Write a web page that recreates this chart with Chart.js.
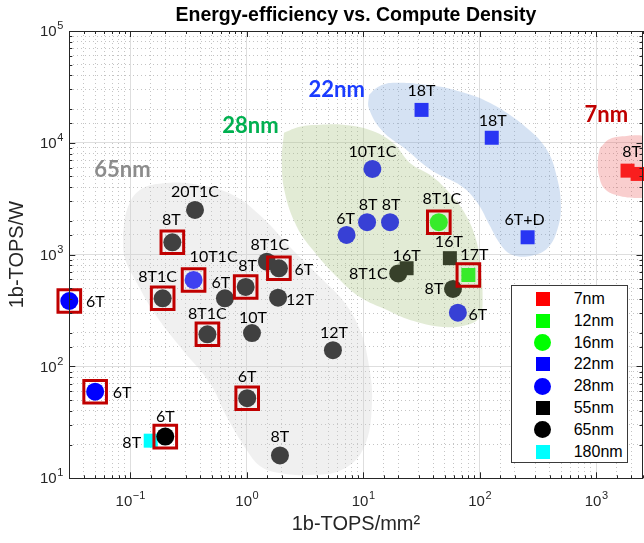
<!DOCTYPE html>
<html>
<head>
<meta charset="utf-8">
<title>Energy-efficiency vs. Compute Density</title>
<script src="https://cdn.jsdelivr.net/npm/chart.js@4.4.1/dist/chart.umd.min.js"></script>
<style>
  html, body { margin: 0; padding: 0; background: #ffffff; }
  #wrap { position: relative; width: 644px; height: 543px; overflow: hidden; }
  #legend {
    position: absolute; left: 511px; top: 285px; width: 115px; height: 176px;
    border: 1px solid #3a3a3a; background: #ffffff;
    font: 16px "Liberation Sans", Arial, sans-serif; color: #000000;
  }
</style>
</head>
<body>
<div id="wrap">
  <canvas id="chart" width="644" height="543"></canvas>
  <div id="legend"></div>
</div>
<script>
// Energy-efficiency (1b-TOPS/W) vs. compute density (1b-TOPS/mm²) of CIM macros,
// one set of arrays per process node.

const NODE_LABELS = ['7nm', '12nm', '16nm', '22nm', '28nm', '55nm', '65nm', '180nm'];

const n7Names = ['8T', ''];
const n7Density = [1860, 2270];
const n7Efficiency = [5640, 5270];
const n7Boxed = [0, 0];

const n12Names = ['17T'];
const n12Density = [80];
const n12Efficiency = [658];
const n12Boxed = [1];

const n16Names = ['8T1C'];
const n16Density = [44.6];
const n16Efficiency = [1950];
const n16Boxed = [1];

const n22Names = ['18T', '18T', '6T+D'];
const n22Density = [31.7, 127, 258];
const n22Efficiency = [19700, 11100, 1430];
const n22Boxed = [0, 0, 0];

const n28Names = ['6T', '6T', '10T1C', '10T1C', '8T', '8T', '6T', '6T'];
const n28Density = [0.03, 0.05, 0.35, 12, 10.8, 17, 7.2, 65];
const n28Efficiency = [385, 59.5, 594, 5840, 1950, 1950, 1500, 303];
const n28Boxed = [1, 1, 1, 0, 0, 0, 0, 0];

const n55Names = ['16T', '16T'];
const n55Density = [55.5, 23.6];
const n55Efficiency = [930, 756];
const n55Boxed = [0, 0];

const n65Names = ['20T1C', '8T', '8T1C', '6T', '8T', '8T1C', '6T', '12T', '8T1C', '10T', '6T', '8T', '12T', '8T1C', '8T', '6T'];
const n65Density = [0.36, 0.23, 0.19, 0.65, 0.98, 1.49, 1.89, 1.86, 0.46, 1.11, 1.01, 1.93, 5.5, 20, 59, 0.2];
const n65Efficiency = [2510, 1290, 407, 407, 514, 866, 755, 412, 194, 199, 52, 16, 140, 680, 494, 23.6];
const n65Boxed = [0, 1, 1, 0, 1, 0, 1, 0, 1, 0, 1, 0, 0, 0, 0, 1];

const n180Names = ['8T'];
const n180Density = [0.15];
const n180Efficiency = [21.7];
const n180Boxed = [0];

// shaded regions grouping each node's designs (outline vertices)
const blob65Density = [0.0866, 0.0937, 0.121, 0.207, 0.397, 0.761, 1.35, 2.49, 4.25, 6.97, 9.37, 11.0, 11.9, 10.1, 6.56, 3.49, 1.85, 1.3, 1.0, 0.676, 0.483, 0.283, 0.17, 0.114, 0.09];
const blob65Efficiency = [1500, 2510, 3790, 4380, 4200, 3420, 2170, 1100, 632, 370, 212, 114, 47.2, 18.7, 11.9, 10.7, 11.2, 12.9, 17.9, 35.3, 71.2, 140, 277, 558, 934];
const blob28Density = [2.09, 2.86, 4.25, 6.7, 11.4, 18, 25.2, 39.7, 58.9, 77.7, 94.8, 102, 106, 100, 77.7, 48.3, 25.2, 16, 9.37, 5.95, 3.7, 2.7, 2.13, 2.0];
const blob28Efficiency = [12300, 13900, 14500, 14500, 13000, 10000, 6610, 4960, 3280, 2170, 1270, 730, 418, 277, 235, 226, 261, 320, 418, 632, 1100, 1770, 3560, 7030];
const blob22Density = [11.2, 13.4, 18, 35.2, 65, 122, 254, 378, 460, 498, 469, 385, 281, 189, 149, 122, 96.5, 70.4, 38.9, 22.8, 14.5, 11.2];
const blob22Efficiency = [26800, 31600, 34400, 33000, 29100, 22800, 13600, 8640, 4960, 2780, 1730, 1150, 980, 1000, 1260, 1820, 2870, 4070, 5650, 8890, 12900, 20300];
const blob7Density = [1076, 1311, 1834, 2618, 3523, 3888, 3523, 2372, 1597, 1188, 1055, 1034];
const blob7Efficiency = [9000, 10840, 11530, 11530, 10610, 5722, 3282, 3215, 3350, 3870, 5160, 7030];

const regionNames = ['65nm', '28nm', '22nm', '7nm'];
const regionDensity = [0.0857, 1.076, 5.92, 1223];
const regionEfficiency = [5722, 14160, 29730, 17770];

// axis decades that get a "10^n" tick label
const xDecades = [0.1, 1, 10, 100, 1000];
const yDecades = [10, 100, 1000, 10000, 100000];

// ---- layout / styling (kept apart from the values) ------------------------
const NODE_STYLE = {
  '7nm': { color: '#ff0000', shape: 'rect' },
  '12nm': { color: '#00ff00', shape: 'rect' },
  '16nm': { color: '#00ff00', shape: 'circle' },
  '22nm': { color: '#0000ff', shape: 'rect' },
  '28nm': { color: '#0000ff', shape: 'circle' },
  '55nm': { color: '#000000', shape: 'rect' },
  '65nm': { color: '#000000', shape: 'circle' },
  '180nm': { color: '#00ffff', shape: 'rect' },
};
const REGION_COLORS = ['#8c8c8c', '#00b050', '#1a3cff', '#c00000'];

// label centre relative to its marker, px
const n7LabelAt = [[4, -19], null];
const n12LabelAt = [[6, -20]];
const n16LabelAt = [[3, -23]];
const n22LabelAt = [[0, -19], [1, -17], [-3, -17]];
const n28LabelAt = [[26, 1], [27, 1], [20, -23], [0, -17], [1, -17], [1, -17], [-1, -16], [20, 2]];
const n55LabelAt = [[-1, -16], [0, -12.5]];
const n65LabelAt = [[0, -18], [-1, -22], [-5, -21], [-4, -15], [2, -21], [3, -17], [25, 2], [22, 2],
  [0, -20], [1, -15], [0, -21], [0, -19], [1, -17], [-30, 0], [-19, 0], [0, -20]];
const n180LabelAt = [[-19, 2.6]];

const groups = [
  { node: '7nm', names: n7Names, x: n7Density, y: n7Efficiency, boxed: n7Boxed, labelAt: n7LabelAt },
  { node: '12nm', names: n12Names, x: n12Density, y: n12Efficiency, boxed: n12Boxed, labelAt: n12LabelAt },
  { node: '16nm', names: n16Names, x: n16Density, y: n16Efficiency, boxed: n16Boxed, labelAt: n16LabelAt },
  { node: '22nm', names: n22Names, x: n22Density, y: n22Efficiency, boxed: n22Boxed, labelAt: n22LabelAt },
  { node: '28nm', names: n28Names, x: n28Density, y: n28Efficiency, boxed: n28Boxed, labelAt: n28LabelAt },
  { node: '55nm', names: n55Names, x: n55Density, y: n55Efficiency, boxed: n55Boxed, labelAt: n55LabelAt },
  { node: '65nm', names: n65Names, x: n65Density, y: n65Efficiency, boxed: n65Boxed, labelAt: n65LabelAt },
  { node: '180nm', names: n180Names, x: n180Density, y: n180Efficiency, boxed: n180Boxed, labelAt: n180LabelAt },
];

const blobs = [
  { x: blob65Density, y: blob65Efficiency, fill: 'rgba(206,206,206,0.31)' },
  { x: blob28Density, y: blob28Efficiency, fill: 'rgba(167,194,128,0.33)' },
  { x: blob22Density, y: blob22Efficiency, fill: 'rgba(124,164,217,0.32)' },
  { x: blob7Density, y: blob7Efficiency, fill: 'rgba(235,97,97,0.31)' },
];

const TICK_FONT = '"Liberation Sans", Arial, sans-serif';
const LABEL_FONT = 'Lato, "Open Sans", sans-serif';
const AXIS_INK = '#262626';

const toPoints = (xs, ys) => xs.map((x, i) => ({ x, y: ys[i] }));
const isDecade = (v) => Math.abs(Math.log10(v) - Math.round(Math.log10(v))) < 1e-6;

// markers: blobs are drawn over them (semi-transparent), boxes on top of everything
const pointDatasets = groups.map((g) => {
  const st = NODE_STYLE[g.node];
  return {
    label: g.node,
    data: toPoints(g.x, g.y),
    pointStyle: st.shape,
    pointRadius: st.shape === 'rect' ? 9.9 : 9,
    pointBackgroundColor: st.color,
    pointBorderWidth: 0,
    pointBorderColor: 'rgba(0,0,0,0)',
    clip: false,
    order: 2,
    names: g.names,
    labelAt: g.labelAt,
  };
});

const boxedPoints = [];
for (const g of groups) {
  g.boxed.forEach((b, i) => { if (b) boxedPoints.push({ x: g.x[i], y: g.y[i] }); });
}
const boxDataset = {
  label: 'highlight',
  data: boxedPoints,
  pointStyle: 'rect',
  pointRadius: 16,
  pointBorderWidth: 3,
  pointBorderColor: '#c00000',
  pointBackgroundColor: 'rgba(0,0,0,0)',
  clip: false,
  order: 0,
};

const blobDatasets = blobs.map((b) => {
  const pts = toPoints(b.x, b.y);
  pts.push(pts[0]);
  return {
    label: 'region',
    data: pts,
    showLine: true,
    fill: 'shape',
    backgroundColor: b.fill,
    borderColor: 'rgba(0,0,0,0)',
    borderWidth: 0,
    pointRadius: 0,
    tension: 0.4,
    order: 1,
  };
});

function drawPow(ctx, exp, x, y, align) {
  ctx.font = `15px ${TICK_FONT}`;
  const wb = ctx.measureText('10').width;
  ctx.font = `11px ${TICK_FONT}`;
  const we = ctx.measureText(exp).width;
  const left = align === 'center' ? x - (wb + we) / 2 : x - (wb + we);
  ctx.textAlign = 'left';
  ctx.textBaseline = 'middle';
  ctx.font = `15px ${TICK_FONT}`;
  ctx.fillText('10', left, y);
  ctx.font = `11px ${TICK_FONT}`;
  ctx.fillText(exp, left + wb + 0.5, y - 6);
}
const expText = (v) => {
  const e = Math.round(Math.log10(v));
  return e < 0 ? '\u2212' + Math.abs(e) : String(e);
};

// MATLAB-style axes: boxed frame, inward ticks on all sides, 10^n labels,
// plus the free text (point names, node names) placed via the scales
const decorPlugin = {
  id: 'decor',
  afterDatasetsDraw(chart) {
    const { ctx, scales: { x, y } } = chart;
    ctx.save();
    ctx.fillStyle = '#000000';
    ctx.textAlign = 'center';
    ctx.textBaseline = 'middle';
    ctx.font = `16px ${LABEL_FONT}`;
    chart.data.datasets.forEach((ds, di) => {
      if (!ds.names) return;
      chart.getDatasetMeta(di).data.forEach((pt, i) => {
        const name = ds.names[i];
        const at = ds.labelAt[i];
        if (!name || !at) return;
        ctx.fillText(name, pt.x + at[0], pt.y + at[1]);
      });
    });
    ctx.font = `bold 22px ${LABEL_FONT}`;
    regionNames.forEach((name, i) => {
      ctx.fillStyle = REGION_COLORS[i];
      ctx.fillText(name, x.getPixelForValue(regionDensity[i]), y.getPixelForValue(regionEfficiency[i]));
    });
    ctx.restore();
  },
  afterDraw(chart) {
    const { ctx, chartArea: a, scales: { x, y } } = chart;
    ctx.save();
    ctx.strokeStyle = AXIS_INK;
    ctx.lineWidth = 1;
    ctx.beginPath();
    for (const t of x.ticks) {
      const px = Math.round(x.getPixelForValue(t.value)) + 0.5;
      const len = isDecade(t.value) ? 6 : 3;
      ctx.moveTo(px, a.bottom); ctx.lineTo(px, a.bottom - len);
      ctx.moveTo(px, a.top); ctx.lineTo(px, a.top + len);
    }
    for (const t of y.ticks) {
      const py = Math.round(y.getPixelForValue(t.value)) + 0.5;
      const len = isDecade(t.value) ? 6 : 3;
      ctx.moveTo(a.left, py); ctx.lineTo(a.left + len, py);
      ctx.moveTo(a.right, py); ctx.lineTo(a.right - len, py);
    }
    ctx.stroke();
    ctx.strokeRect(Math.round(a.left) + 0.5, Math.round(a.top) + 0.5,
      Math.round(a.right - a.left), Math.round(a.bottom - a.top));

    ctx.fillStyle = AXIS_INK;
    for (const v of xDecades) drawPow(ctx, expText(v), x.getPixelForValue(v), a.bottom + 24, 'center');
    for (const v of yDecades) drawPow(ctx, expText(v), a.left - 6.5, y.getPixelForValue(v) + 1, 'right');
    ctx.restore();
  },
};

const gridColor = (c) => (c.tick && isDecade(c.tick.value) ? '#dedede' : '#c4c4c4');
const gridDash = (c) => (c.tick && isDecade(c.tick.value) ? [] : [1, 3]);

new Chart(document.getElementById('chart'), {
  type: 'scatter',
  data: { datasets: [boxDataset, ...blobDatasets, ...pointDatasets] },
  options: {
    responsive: false,
    animation: false,
    devicePixelRatio: 1,
    events: [],
    layout: { autoPadding: false, padding: { left: 0, right: 1.5, top: 0, bottom: 0 } },
    plugins: {
      legend: { display: false },
      tooltip: { enabled: false },
      title: {
        display: true,
        fullSize: false,
        text: 'Energy-efficiency vs. Compute Density',
        color: '#000000',
        font: { family: TICK_FONT, size: 19.5, weight: 'bold', lineHeight: 1.2 },
        padding: { top: 3.8, bottom: 3.8 },
      },
    },
    scales: {
      x: {
        type: 'logarithmic',
        min: 0.03,
        max: 2500,
        afterFit: (s) => { s.height = 64.7; },
        ticks: { display: false, autoSkip: false },
        grid: { color: gridColor, lineWidth: 1, drawTicks: false },
        border: { display: false, dash: gridDash },
        title: {
          display: true,
          text: '1b-TOPS/mm\u00b2',
          color: AXIS_INK,
          font: { family: TICK_FONT, size: 20, lineHeight: 1.2 },
          padding: { top: 0, bottom: 7 },
        },
      },
      y: {
        type: 'logarithmic',
        min: 10,
        max: 100000,
        afterFit: (s) => { s.width = 69.3; },
        ticks: { display: false, autoSkip: false },
        grid: { color: gridColor, lineWidth: 1, drawTicks: false },
        border: { display: false, dash: gridDash },
        title: {
          display: true,
          text: '1b-TOPS/W',
          color: AXIS_INK,
          font: { family: TICK_FONT, size: 20, lineHeight: 1.2 },
          padding: { top: 5.5, bottom: 0 },
        },
      },
    },
  },
  plugins: [decorPlugin],
});

// legend box (inside the axes, lower right)
const legendEl = document.getElementById('legend');
NODE_LABELS.forEach((node, k) => {
  const st = NODE_STYLE[node];
  const cy = 13 + k * 21.8;
  const size = st.shape === 'rect' ? 14 : 17;
  const mk = document.createElement('div');
  mk.style.cssText = `position:absolute;left:${30.7 - size / 2}px;top:${cy - size / 2}px;` +
    `width:${size}px;height:${size}px;background:${st.color};` +
    `border-radius:${st.shape === 'rect' ? '0' : '50%'};`;
  const tx = document.createElement('div');
  tx.textContent = node;
  tx.style.cssText = `position:absolute;left:61.7px;top:${cy - 10}px;line-height:20px;white-space:nowrap;`;
  legendEl.appendChild(mk);
  legendEl.appendChild(tx);
});
</script>
</body>
</html>
